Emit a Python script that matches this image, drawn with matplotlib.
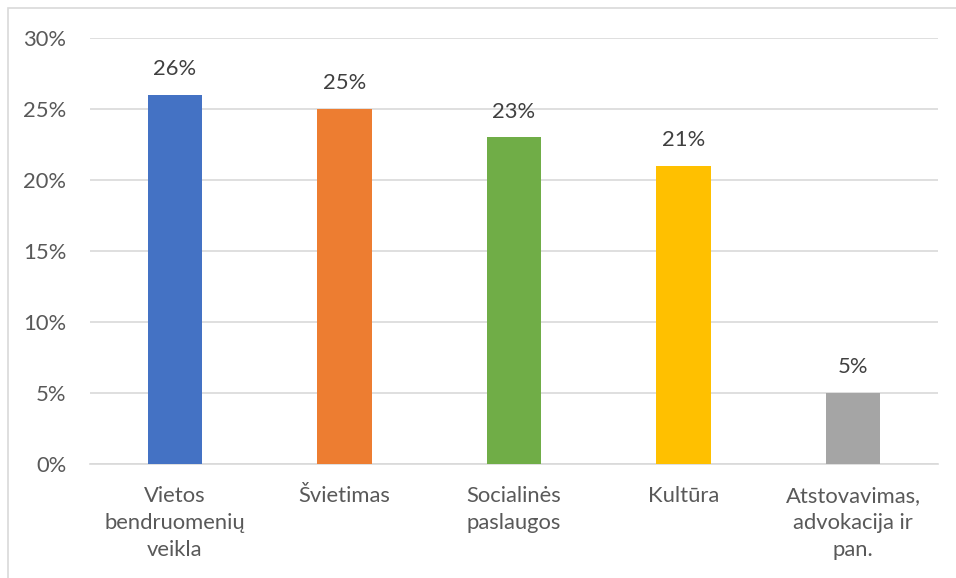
import matplotlib.pyplot as plt
from matplotlib.patches import Rectangle
from matplotlib.ticker import PercentFormatter

categories = ['Vietos\nbendruomenių\nveikla', 'Švietimas', 'Socialinės\npaslaugos',
              'Kultūra', 'Atstovavimas,\nadvokacija ir\npan.']
values = [26, 25, 23, 21, 5]
colors = ['#4472C4', '#ED7D31', '#70AD47', '#FFC000', '#A5A5A5']
yticks = [0, 5, 10, 15, 20, 25, 30]

TXT = '#595959'
FS = 15.8
plt.rcParams['font.family'] = ['Lato', 'DejaVu Sans']

W, H = 956, 578
fig = plt.figure(figsize=(W / 100, H / 100), dpi=100)
ax = fig.add_axes([90 / W, 1 - 464 / H, (938 - 90) / W, (464 - 38) / H])

x = range(len(categories))
bars = ax.bar(x, values, width=0.32, color=colors, zorder=3)
for b, v in zip(bars, values):
    ax.text(b.get_x() + b.get_width() / 2, v + 1.1, f'{v}%', ha='center', va='bottom',
            fontsize=FS, color='#404040')

ax.set_xlim(-0.5, len(categories) - 0.5)
ax.set_ylim(0, 30)
ax.set_yticks(yticks)
ax.yaxis.set_major_formatter(PercentFormatter(decimals=0))
ax.set_xticks(list(x))
ax.set_xticklabels(categories, fontsize=FS, color=TXT, linespacing=1.42)
ax.tick_params(axis='y', labelsize=FS, labelcolor=TXT, length=0, pad=17)
ax.tick_params(axis='x', length=0, pad=16)
ax.grid(axis='y', color='#D9D9D9', linewidth=1.2, zorder=0)
for s in ['top', 'right', 'left']:
    ax.spines[s].set_visible(False)
ax.spines['bottom'].set_color('#D9D9D9')
ax.spines['bottom'].set_linewidth(1.2)

# chart border
fig.patches.append(Rectangle((8 / W, -0.1), 1.2, 1 - 8 / H + 0.1, transform=fig.transFigure,
                             fill=False, edgecolor='#D9D9D9', linewidth=1.2))

fig.savefig('out.png', dpi=100)
